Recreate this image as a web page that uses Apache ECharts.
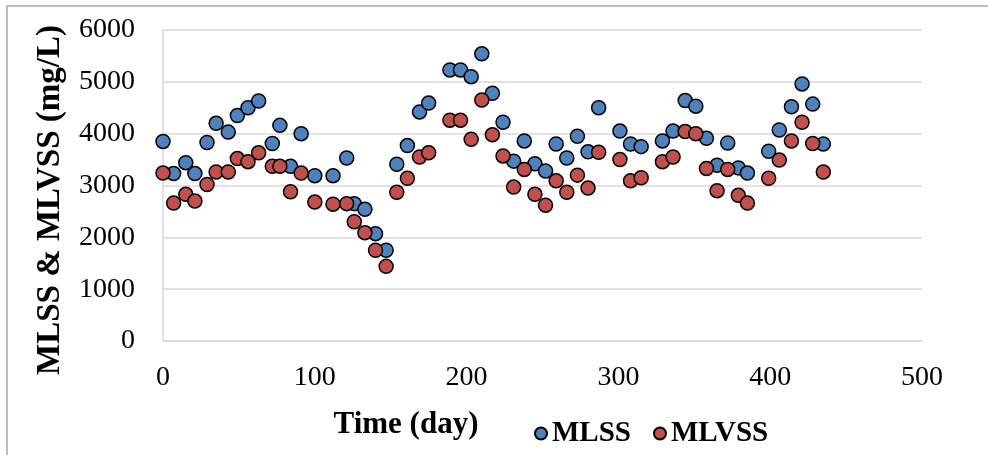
<!DOCTYPE html>
<html>
<head>
<meta charset="utf-8">
<script src="https://cdn.jsdelivr.net/npm/echarts@6/dist/echarts.min.js"></script>
<style>
html,body{margin:0;padding:0;background:#fff;}
#chart{width:988px;height:455px;}
</style>
</head>
<body>
<div id="chart"></div>
<script>
var days = [0,7,15,21,29,35,43,49,56,63,72,77,84,91,100,112,121,126,133,140,147,154,161,169,175,189,196,203,210,217,224,231,238,245,252,259,266,273,280,287,301,308,315,329,336,344,351,358,365,372,379,385,399,406,414,421,428,435];
var mlss = [3850,3230,3440,3230,3830,4200,4030,4350,4500,4630,3810,4160,3370,4000,3190,3190,3530,2650,2540,2070,1750,3410,3770,4420,4590,5230,5230,5100,5540,4780,4220,3470,3860,3420,3280,3800,3530,3950,3650,4500,4050,3800,3750,3860,4050,4640,4530,3910,3390,3820,3340,3240,3660,4070,4520,4960,4570,3800];
var mlvss = [3240,2660,2830,2700,3020,3260,3260,3520,3460,3630,3370,3370,2880,3240,2680,2640,2650,2300,2090,1750,1440,2870,3140,3550,3630,4260,4260,3890,4650,3980,3570,2970,3310,2830,2620,3090,2870,3200,2950,3640,3500,3090,3150,3460,3550,4040,4000,3330,2900,3310,2810,2660,3140,3490,3860,4220,3810,3260];
var seriesNames = ['MLSS','MLVSS'];
var xTitle = 'Time (day)';
var yTitle = 'MLSS & MLVSS (mg/L)';

function pairs(xs, ys){ return xs.map(function(x,i){ return [x, ys[i]]; }); }

var font = '"Liberation Serif","Times New Roman",serif';
var chart = echarts.init(document.getElementById('chart'), null, {renderer:'canvas'});
chart.setOption({
  animation:false,
  backgroundColor:'#fff',
  grid:{left:163, right:66, top:30, bottom:114, containLabel:false},
  xAxis:{
    type:'value', min:0, max:500, interval:100,
    axisLine:{show:true, lineStyle:{color:'#d9d9d9', width:1.5}},
    axisTick:{show:false},
    splitLine:{show:false},
    axisLabel:{fontFamily:font, fontSize:28, color:'#000', margin:23, formatter:function(v){return String(v);}}
  },
  yAxis:{
    type:'value', min:0, max:6000, interval:1000,
    axisLine:{show:true, lineStyle:{color:'#d9d9d9', width:1.5}},
    axisTick:{show:false},
    splitLine:{show:true, lineStyle:{color:'#d9d9d9', width:1.5}},
    axisLabel:{fontFamily:font, fontSize:28, color:'#000', margin:28, formatter:function(v){return String(v);}}
  },
  legend:{
    left:529, top:414,
    itemWidth:12, itemHeight:12, itemGap:22,
    icon:'circle',
    textStyle:{fontFamily:font, fontSize:29, fontWeight:'bold', color:'#000'},
    data:seriesNames
  },
  graphic:[
    {type:'rect', shape:{x:7, y:6, width:1000, height:500}, style:{fill:'none', stroke:'#a6a6a6', lineWidth:1.5}, silent:true, z:-1},
    {type:'text', x:406, y:425, style:{text:xTitle, fontFamily:font, fontSize:31, fontWeight:'bold', fill:'#000', align:'center', verticalAlign:'middle'}},
    {type:'text', x:50, y:200, rotation:Math.PI/2, style:{text:yTitle, fontFamily:font, fontSize:33, fontWeight:'bold', fill:'#000', align:'center', verticalAlign:'middle'}}
  ],
  series:[
    {name:seriesNames[0], type:'scatter', data:pairs(days, mlss), symbol:'circle', symbolSize:14,
     itemStyle:{color:'#4f81bd', borderColor:'#000', borderWidth:1.5, opacity:1}},
    {name:seriesNames[1], type:'scatter', data:pairs(days, mlvss), symbol:'circle', symbolSize:14,
     itemStyle:{color:'#c0504d', borderColor:'#000', borderWidth:1.5, opacity:1}}
  ]
});
</script>
</body>
</html>
